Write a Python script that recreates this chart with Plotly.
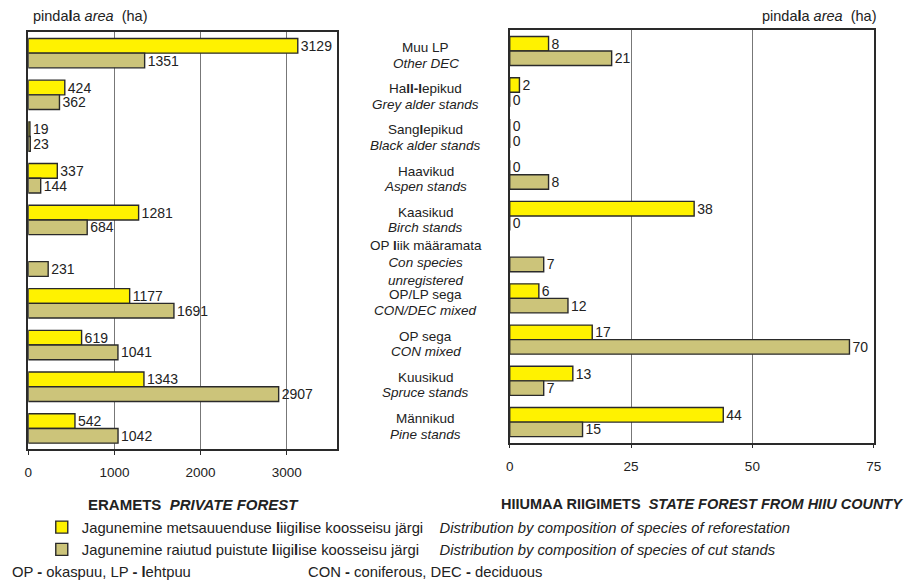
import plotly.graph_objects as go

# categories (top to bottom)
categories = ["Muu LP", "Hall-lepikud", "Sanglepikud", "Haavikud", "Kaasikud",
              "OP liik määramata", "OP/LP sega", "OP sega", "Kuusikud", "Männikud"]
labels_et = ["Muu LP", "Ha<b>ll-l</b>epikud", "Sang<b>l</b>epikud", "Haavikud", "Kaasikud",
             "OP <b>l</b>iik määramata", "OP/LP sega", "OP sega", "Kuusikud", "Männikud"]
labels_en = ["Other DEC", "Grey alder stands", "Black alder stands", "Aspen stands",
             "Birch stands", "Con species<br>unregistered", "CON/DEC mixed", "CON mixed",
             "Spruce stands", "Pine stands"]

# private forest (ha)
private_reforest = [3129, 424, 19, 337, 1281, None, 1177, 619, 1343, 542]
private_cut = [1351, 362, 23, 144, 684, 231, 1691, 1041, 2907, 1042]
# state forest, Hiiu county (ha)
state_reforest = [8, 2, 0, 0, 38, None, 6, 17, 13, 44]
state_cut = [21, 0, 0, 8, 0, 7, 12, 70, 7, 15]

left_ticks = [0, 1000, 2000, 3000]
right_ticks = [0, 25, 50, 75]

YELLOW = "#FFF200"
TAN = "#CCC47A"
EDGE = "#2a2a2a"
FONT = "Liberation Sans, Arial, sans-serif"

name_reforest = ("Jagunemine metsauuenduse <b>l</b>iigi<b>l</b>ise koosseisu järgi    "
                 "<i>Distribution by composition of species of reforestation</i>")
name_cut = ("Jagunemine raiutud puistute <b>l</b>iigi<b>l</b>ise koosseisu järgi     "
            "<i>Distribution by composition of species of cut stands</i>")


# page pixel -> paper fraction (calibrated on the rendered page)
def fx(px):
    return (px - 11) / (0.988 * 914)


def fy(py):
    return 1 - (py - 8) / 581


def lab(vals):
    return ["" if v is None else str(v) for v in vals]


def bar(vals, color, name, xa, ya, show):
    return go.Bar(
        y=categories, x=vals, orientation="h", name=name,
        marker=dict(color=color, line=dict(color=EDGE, width=1.4)),
        text=lab(vals), textposition="outside", constraintext="none",
        textfont=dict(size=14, color="#222", family=FONT),
        cliponaxis=False, xaxis=xa, yaxis=ya, showlegend=show,
        hoverinfo="x+y",
    )


fig = go.Figure()
fig.add_trace(bar(private_reforest, YELLOW, name_reforest, "x", "y", True))
fig.add_trace(bar(private_cut, TAN, name_cut, "x", "y", True))
fig.add_trace(bar(state_reforest, YELLOW, name_reforest, "x2", "y2", False))
fig.add_trace(bar(state_cut, TAN, name_cut, "x2", "y2", False))

xcommon = dict(showline=True, mirror=True, linecolor=EDGE, linewidth=1.5,
               showgrid=True, gridcolor="#777", gridwidth=1, zeroline=False,
               ticks="outside", ticklen=4, tickcolor=EDGE, ticklabelstandoff=6,
               tickfont=dict(size=13.5, color="#222", family=FONT), fixedrange=True)
ycommon = dict(showline=True, mirror=True, linecolor=EDGE, linewidth=1.5,
               showticklabels=False, ticks="", showgrid=False, autorange="reversed",
               categoryorder="array", categoryarray=categories, fixedrange=True)

fig.update_layout(
    width=914, height=581, autosize=False,
    margin=dict(l=0, r=0, t=0, b=0),
    paper_bgcolor="white", plot_bgcolor="white",
    font=dict(family=FONT, size=13, color="#222"),
    barmode="group", bargap=0.295, bargroupgap=0,
    xaxis=dict(xcommon, domain=[fx(27.3), fx(336)], range=[0, 3580], tickvals=left_ticks, anchor="y"),
    yaxis=dict(ycommon, domain=[fy(449.3), fy(32.3)], anchor="x"),
    xaxis2=dict(xcommon, domain=[fx(509.3), fx(873.7)], range=[0, 75], tickvals=right_ticks, anchor="y2"),
    yaxis2=dict(ycommon, domain=[fy(442.7), fy(29.5)], anchor="x2"),
    legend=dict(x=fx(40.8), y=fy(511), xanchor="left", yanchor="top",
                font=dict(size=14.8, color="#222", family=FONT),
                bgcolor="rgba(0,0,0,0)", traceorder="normal", tracegroupgap=0),
)

ann = []
for c, et, en in zip(categories, labels_et, labels_en):
    three = "<br>" in en
    ann.append(dict(x=fx(425), xref="paper", y=c, yref="y2", yshift=12 if three else 3.5,
                    text=et, showarrow=False, xanchor="center", yanchor="middle",
                    font=dict(size=13.5, color="#222")))
    ann.append(dict(x=fx(425), xref="paper", y=c, yref="y2", yshift=-14 if three else -12,
                    text=f"<i>{en}</i>", showarrow=False, xanchor="center", yanchor="middle",
                    align="center", font=dict(size=13.5, color="#222")))

ann += [
    dict(x=fx(30), y=fy(16), text="pinda<b>l</b>a <i>area</i>  (ha)", xanchor="left"),
    dict(x=fx(878), y=fy(16), text="pinda<b>l</b>a <i>area</i>  (ha)", xanchor="right"),
    dict(x=fx(85), y=fy(504), text="<b>ERAMETS  <i>PRIVATE FOREST</i></b>",
         xanchor="left", font=dict(size=15, color="#222")),
    dict(x=fx(499), y=fy(504),
         text="<b>HIIUMAA RIIGIMETS  <i>STATE FOREST FROM HIIU COUNTY</i></b>",
         xanchor="left", font=dict(size=14.5, color="#222")),
    dict(x=fx(9), y=fy(572), text="OP <b>-</b> okaspuu, LP <b>-</b> <b>l</b>ehtpuu",
         xanchor="left", font=dict(size=14.8, color="#222")),
    dict(x=fx(305), y=fy(572), text="CON <b>-</b> coniferous, DEC <b>-</b> deciduous",
         xanchor="left", font=dict(size=14.8, color="#222")),
]
for a in ann:
    a.setdefault("xref", "paper")
    a.setdefault("yref", "paper")
    a.setdefault("showarrow", False)
    a.setdefault("yanchor", "middle")
    a.setdefault("font", dict(size=14.5, color="#222"))

fig.update_layout(annotations=ann)

fig.write_html("out.html")
